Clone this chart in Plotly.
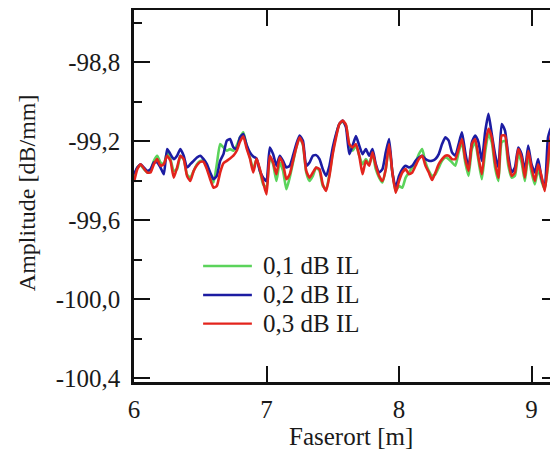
import numpy as np
import plotly.graph_objects as go

# ---- data ----
X_START = 6.0
X_STEP = 0.025

RED_03 = [
    -99.407, -99.342, -99.317, -99.339, -99.359, -99.359, -99.317, -99.291, -99.325, -99.317,
    -99.274, -99.300, -99.385, -99.334, -99.274, -99.291, -99.376, -99.402, -99.351, -99.322,
    -99.305, -99.305, -99.342, -99.393, -99.436, -99.427, -99.359, -99.312, -99.300, -99.288,
    -99.274, -99.249, -99.203, -99.175, -99.237, -99.288, -99.359, -99.288, -99.342, -99.410,
    -99.470, -99.274, -99.308, -99.368, -99.283, -99.317, -99.393, -99.368, -99.300, -99.232,
    -99.181, -99.215, -99.351, -99.385, -99.359, -99.334, -99.342, -99.419, -99.453, -99.376,
    -99.266, -99.181, -99.113, -99.096, -99.118, -99.215, -99.232, -99.215, -99.274, -99.368,
    -99.300, -99.325, -99.257, -99.325, -99.376, -99.402, -99.342, -99.215, -99.359, -99.461,
    -99.402, -99.359, -99.342, -99.368, -99.359, -99.325, -99.291, -99.274, -99.325, -99.359,
    -99.397, -99.359, -99.317, -99.291, -99.274, -99.274, -99.291, -99.291, -99.240, -99.189,
    -99.291, -99.351, -99.215, -99.189, -99.283, -99.368, -99.223, -99.138, -99.181, -99.308,
    -99.385, -99.172, -99.172, -99.300, -99.376, -99.359, -99.240, -99.283, -99.385, -99.249,
    -99.334, -99.402, -99.317, -99.376, -99.453, -99.300, -99.155, -99.181, -99.198,
]

BLUE_02 = [
    -99.368, -99.334, -99.317, -99.334, -99.351, -99.342, -99.308, -99.308, -99.334, -99.368,
    -99.240, -99.266, -99.291, -99.274, -99.240, -99.274, -99.334, -99.317, -99.300, -99.283,
    -99.274, -99.291, -99.317, -99.359, -99.393, -99.376, -99.300, -99.266, -99.198, -99.189,
    -99.232, -99.240, -99.181, -99.164, -99.220, -99.257, -99.278, -99.288, -99.351, -99.385,
    -99.402, -99.232, -99.266, -99.325, -99.274, -99.300, -99.334, -99.325, -99.274, -99.215,
    -99.172, -99.198, -99.325, -99.308, -99.274, -99.271, -99.291, -99.342, -99.376, -99.325,
    -99.232, -99.164, -99.113, -99.096, -99.130, -99.266, -99.223, -99.175, -99.223, -99.266,
    -99.240, -99.274, -99.240, -99.317, -99.359, -99.342, -99.257, -99.189, -99.359, -99.436,
    -99.376, -99.342, -99.325, -99.334, -99.325, -99.300, -99.283, -99.274, -99.291, -99.300,
    -99.300, -99.291, -99.266, -99.215, -99.181, -99.198, -99.257, -99.274, -99.215, -99.155,
    -99.257, -99.334, -99.206, -99.172, -99.206, -99.300, -99.155, -99.062, -99.164, -99.266,
    -99.334, -99.113, -99.147, -99.274, -99.359, -99.334, -99.232, -99.266, -99.351, -99.223,
    -99.317, -99.359, -99.291, -99.385, -99.436, -99.181, -99.130, -99.169, -99.181,
]

GREEN_01 = [
    -99.385, -99.334, -99.322, -99.342, -99.359, -99.351, -99.300, -99.274, -99.308, -99.317,
    -99.257, -99.291, -99.351, -99.342, -99.274, -99.291, -99.368, -99.385, -99.351, -99.317,
    -99.300, -99.300, -99.334, -99.376, -99.410, -99.317, -99.215, -99.232, -99.249, -99.240,
    -99.249, -99.223, -99.181, -99.155, -99.223, -99.283, -99.342, -99.291, -99.351, -99.419,
    -99.436, -99.283, -99.317, -99.402, -99.308, -99.351, -99.444, -99.385, -99.308, -99.232,
    -99.181, -99.220, -99.359, -99.402, -99.376, -99.334, -99.351, -99.427, -99.444, -99.368,
    -99.257, -99.172, -99.113, -99.101, -99.121, -99.223, -99.249, -99.223, -99.274, -99.317,
    -99.291, -99.317, -99.266, -99.342, -99.385, -99.410, -99.342, -99.223, -99.359, -99.453,
    -99.427, -99.436, -99.385, -99.359, -99.334, -99.308, -99.266, -99.240, -99.308, -99.351,
    -99.376, -99.368, -99.334, -99.300, -99.283, -99.291, -99.308, -99.325, -99.257, -99.206,
    -99.308, -99.376, -99.240, -99.206, -99.300, -99.393, -99.257, -99.164, -99.206, -99.334,
    -99.402, -99.206, -99.198, -99.325, -99.385, -99.376, -99.266, -99.308, -99.402, -99.274,
    -99.359, -99.419, -99.342, -99.402, -99.444, -99.325, -99.172, -99.215, -99.232,
]

SERIES_NAMES = ["0,1 dB IL", "0,2 dB IL", "0,3 dB IL"]
SERIES_COLORS = ["#5bd35b", "#1c1ca2", "#e3241d"]

X_TICKS = [6, 7, 8, 9]
X_TICK_LABELS = ["6", "7", "8", "9"]
Y_TICKS = [-100.4, -100.0, -99.6, -99.2, -98.8]
Y_TICK_LABELS = ["-100,4", "-100,0", "-99,6", "-99,2", "-98,8"]
Y_MINOR = [-100.2, -99.8, -99.4, -99.0, -98.6]

X_RANGE = [6.0, 9.2]
Y_RANGE = [-100.42, -98.536]

x = np.round(X_START + X_STEP * np.arange(len(RED_03)), 4)

FONT = "Liberation Serif"
FS = 25
TXT = "#1a1a1a"
AX = "#111111"

fig = go.Figure()
series = [GREEN_01, BLUE_02, RED_03]
for i, (vals, name, col) in enumerate(zip(series, SERIES_NAMES, SERIES_COLORS)):
    fig.add_trace(go.Scatter(
        x=x, y=vals, mode="lines", name=name,
        line=dict(color=col, width=2.6, shape="spline", smoothing=0.5),
        yaxis="y2" if i == 2 else "y",
        showlegend=False,
    ))

minor_common = dict(tickvals=Y_MINOR, ticks="inside", ticklen=8, tickwidth=2, tickcolor=AX)

# the page body keeps the browser's default 8px margin, so the figure is
# sized to fill the rest of the 558x452 window
fig.update_layout(
    width=550, height=444,
    margin=dict(l=126, r=0, t=2, b=70, autoexpand=False),
    paper_bgcolor="white", plot_bgcolor="white",
    font=dict(family=FONT, size=FS, color=TXT),
    xaxis=dict(
        range=X_RANGE, tickmode="array", tickvals=X_TICKS, ticktext=X_TICK_LABELS,
        ticks="inside", ticklen=16, tickwidth=2, tickcolor=AX,
        showline=True, linewidth=2.5, linecolor=AX, mirror="ticks",
        showgrid=False, zeroline=False,
        tickfont=dict(family=FONT, size=FS, color=TXT),
        ticklabelstandoff=3,
    ),
    yaxis=dict(
        range=Y_RANGE, tickmode="array", tickvals=Y_TICKS, ticktext=Y_TICK_LABELS,
        ticks="inside", ticklen=16, tickwidth=2, tickcolor=AX,
        showline=True, linewidth=2.5, linecolor=AX,
        showgrid=False, zeroline=False,
        tickfont=dict(family=FONT, size=FS, color=TXT),
        ticklabelstandoff=6,
        minor=minor_common,
    ),
    yaxis2=dict(
        range=Y_RANGE, overlaying="y", side="right", anchor="x",
        tickmode="array", tickvals=Y_TICKS, showticklabels=False,
        ticks="inside", ticklen=16, tickwidth=2, tickcolor=AX,
        showline=False, showgrid=False, zeroline=False,
        minor=minor_common,
    ),
    showlegend=False,
)

# axis titles
fig.add_annotation(text="Faserort [m]", xref="paper", yref="paper",
                   x=0.512, y=-0.147, xanchor="center", yanchor="middle",
                   showarrow=False, font=dict(family=FONT, size=FS, color=TXT))
fig.add_annotation(text="Amplitude [dB/mm]", xref="paper", yref="paper",
                   x=-0.252, y=0.508, xanchor="center", yanchor="middle", textangle=-90,
                   showarrow=False, font=dict(family=FONT, size=24, color=TXT))

# legend (drawn manually to match sample-line length)
LEG_ROWS = [0.312, 0.234, 0.157]
for name, col, yy in zip(SERIES_NAMES, SERIES_COLORS, LEG_ROWS):
    fig.add_shape(type="line", xref="paper", yref="paper",
                  x0=0.163, x1=0.278, y0=yy, y1=yy,
                  line=dict(color=col, width=2.4))
    fig.add_annotation(text=name, xref="paper", yref="paper",
                       x=0.300, y=yy, xanchor="left", yanchor="middle",
                       showarrow=False, font=dict(family=FONT, size=FS, color=TXT))

fig.write_html("out.html")
